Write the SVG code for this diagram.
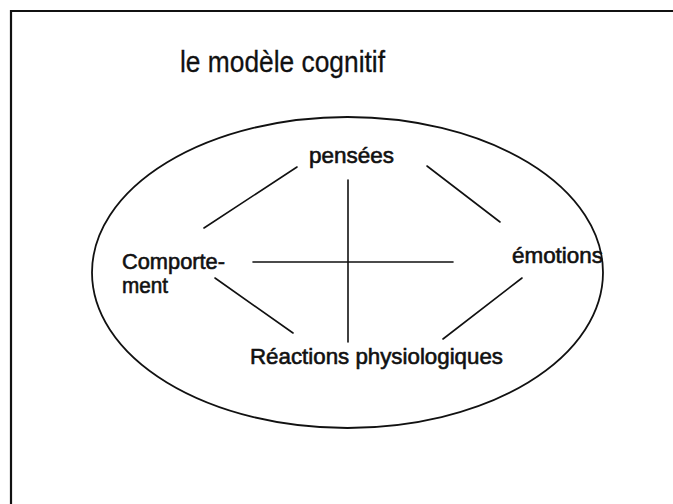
<svg xmlns="http://www.w3.org/2000/svg" width="673" height="504" viewBox="0 0 673 504">
<style>
.lbl{font-family:"Liberation Sans",Arial,Helvetica,sans-serif;font-size:22px;fill:#111;stroke:#111;stroke-width:0.6;}
.title{font-family:"Liberation Sans",Arial,Helvetica,sans-serif;font-size:30px;fill:#111;stroke:#111;stroke-width:0.3;}
.ln{stroke:#111;stroke-width:1.6;fill:none;stroke-linecap:round;}
</style>
<rect width="673" height="504" fill="#fff"/>
<path d="M11,504 V11 H673" fill="none" stroke="#111" stroke-width="2.2"/>
<g id="title"><text class="title" x="180" y="72" textLength="205" lengthAdjust="spacingAndGlyphs">le modèle cognitif</text></g>
<g id="ellipse"><ellipse cx="347.5" cy="272.5" rx="255.5" ry="155.5" fill="none" stroke="#111" stroke-width="1.8"/></g>
<g id="pensees"><text class="lbl" x="309" y="163" textLength="85" lengthAdjust="spacingAndGlyphs">pensées</text></g>
<g id="comportement"><text class="lbl" x="122" y="269" textLength="103" lengthAdjust="spacingAndGlyphs">Comporte-</text><text class="lbl" x="122" y="293" textLength="46" lengthAdjust="spacingAndGlyphs">ment</text></g>
<g id="emotions"><text class="lbl" x="512" y="263" textLength="91" lengthAdjust="spacingAndGlyphs">émotions</text></g>
<g id="reactions"><text class="lbl" x="250" y="364" textLength="253" lengthAdjust="spacingAndGlyphs">Réactions physiologiques</text></g>
<g id="connectors">
<line class="ln" x1="297" y1="167" x2="204" y2="228"/>
<line class="ln" x1="427" y1="166" x2="500" y2="222"/>
<line class="ln" x1="348" y1="180" x2="348" y2="342"/>
<line class="ln" x1="253" y1="262" x2="453" y2="262"/>
<line class="ln" x1="215" y1="278" x2="293" y2="333"/>
<line class="ln" x1="522" y1="278" x2="443" y2="339"/>
</g>
</svg>
